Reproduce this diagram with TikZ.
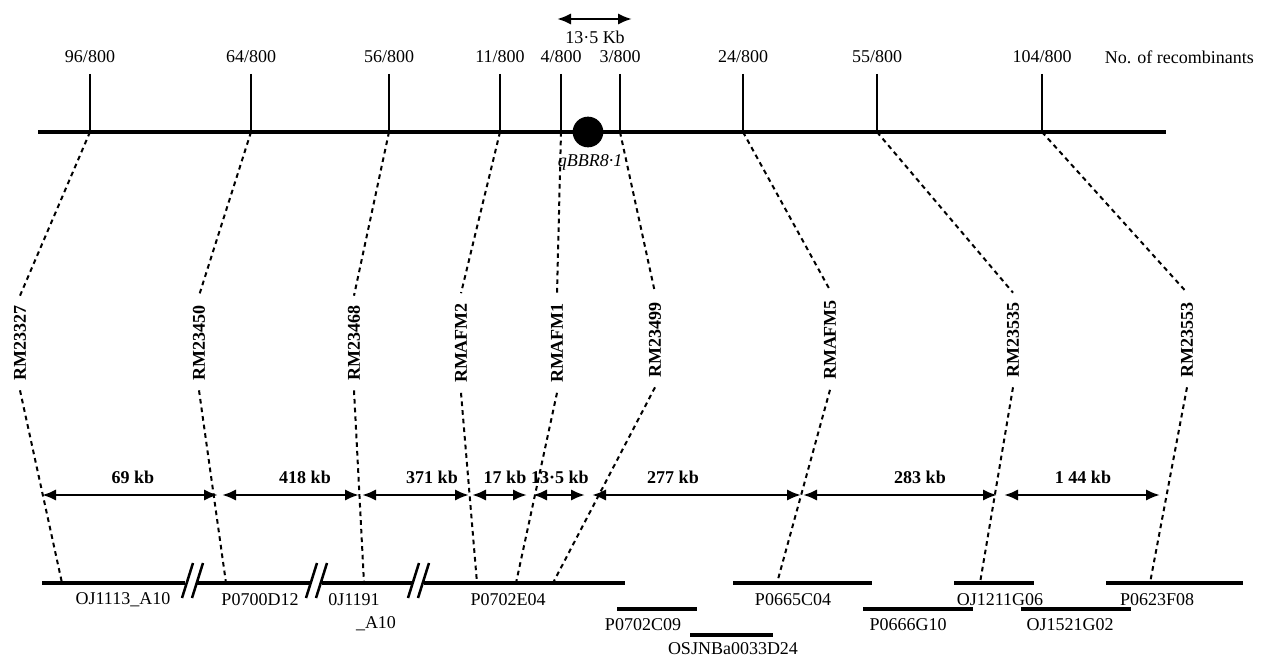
\documentclass[tikz,border=0pt]{standalone}
\usepackage{fontspec}
\setmainfont{Liberation Serif}
\usetikzlibrary{arrows.meta}

\tikzset{every picture/.style={line width=0.75pt}}
\tikzset{
  mapline/.style={line width=2.6pt},
  tickline/.style={line width=1.9pt},
  dashlink/.style={line width=1.5pt, dash pattern=on 3.5pt off 3pt},
  kbarrow/.style={line width=1.9pt, {Latex[length=10.5pt,width=8.5pt]}-{Latex[length=10.5pt,width=8.5pt]}},
  contig/.style={line width=2.6pt},
  marker/.style={rotate=90, inner sep=7pt, font=\fontsize{13.5}{15}\selectfont\bfseries},
  kblabel/.style={font=\fontsize{13.5}{15}\selectfont\bfseries},
}

\begin{document}
\begin{tikzpicture}[x=0.75pt,y=0.75pt,yscale=-1,xscale=1,font=\fontsize{13.5}{15}\selectfont]
\useasboundingbox (0,0) rectangle (1261,660);

%Straight Lines [id:mainmap]
\coordinate (L0) at (38,132);
\coordinate (L1) at (1166,132);
\draw[mapline] (L0) -- (L1);

%Ticks
\coordinate (k1) at (90,132);   \coordinate (h1) at (90,74);
\coordinate (k2) at (251,132);  \coordinate (h2) at (251,74);
\coordinate (k3) at (389,132);  \coordinate (h3) at (389,74);
\coordinate (k4) at (500,132);  \coordinate (h4) at (500,74);
\coordinate (k5) at (561,132);  \coordinate (h5) at (561,74);
\coordinate (k6) at (620,132);  \coordinate (h6) at (620,74);
\coordinate (k7) at (743,132);  \coordinate (h7) at (743,74);
\coordinate (k8) at (877,132);  \coordinate (h8) at (877,74);
\coordinate (k9) at (1042,132); \coordinate (h9) at (1042,74);
\draw[tickline] (h1) -- (k1);
\draw[tickline] (h2) -- (k2);
\draw[tickline] (h3) -- (k3);
\draw[tickline] (h4) -- (k4);
\draw[tickline] (h5) -- (k5);
\draw[tickline] (h6) -- (k6);
\draw[tickline] (h7) -- (k7);
\draw[tickline] (h8) -- (k8);
\draw[tickline] (h9) -- (k9);

% Text Node
\node (r1) at (90,57) {96/800};
\node (r2) at (251,57) {64/800};
\node (r3) at (389,57) {56/800};
\node (r4) at (500,57) {11/800};
\node (r5) at (561,57) {4/800};
\node (r6) at (620,57) {3/800};
\node (r7) at (743,57) {24/800};
\node (r8) at (877,57) {55/800};
\node (r9) at (1042,57) {104/800};
\node[anchor=west] (nrec) at (1100,57) {No. of recombinants};

%Interval of the gene
\coordinate (ia) at (557,19);
\coordinate (ib) at (632,19);
\draw[kbarrow] (ia) -- (ib);
\node (iv) at (595,37) {13·5 Kb};

%Gene
\node[circle, fill=black, minimum size=23pt, inner sep=0pt] (qtl) at (588,132) {};
\node (qname) at (590,162) {\itshape qBBR8·1};

% Markers
\node[marker] (m1) at (20,343) {RM23327};
\node[marker] (m2) at (199,343) {RM23450};
\node[marker] (m3) at (354,343) {RM23468};
\node[marker] (m4) at (461,343) {RMAFM2};
\node[marker] (m5) at (557,343) {RMAFM1};
\node[marker] (m6) at (655,340) {RM23499};
\node[marker] (m7) at (830,340) {RMAFM5};
\node[marker] (m8) at (1013,340) {RM23535};
\node[marker] (m9) at (1187,340) {RM23553};

% Points on the physical map
\coordinate (c1) at (62,583);
\coordinate (c2) at (226,583);
\coordinate (c3) at (364,583);
\coordinate (c4) at (477,583);
\coordinate (c5) at (516,583);
\coordinate (c6) at (553,583);
\coordinate (c7) at (777,583);
\coordinate (c8) at (980,583);
\coordinate (c9) at (1150,583);

%Dashed links
\draw[dashlink] (k1) -- (m1.east);  \draw[dashlink] (m1.west) -- (c1);
\draw[dashlink] (k2) -- (m2.east);  \draw[dashlink] (m2.west) -- (c2);
\draw[dashlink] (k3) -- (m3.east);  \draw[dashlink] (m3.west) -- (c3);
\draw[dashlink] (k4) -- (m4.east);  \draw[dashlink] (m4.west) -- (c4);
\draw[dashlink] (k5) -- (m5.east);  \draw[dashlink] (m5.west) -- (c5);
\draw[dashlink] (k6) -- (m6.east);  \draw[dashlink] (m6.west) -- (c6);
\draw[dashlink] (k7) -- (m7.east);  \draw[dashlink] (m7.west) -- (c7);
\draw[dashlink] (k8) -- (m8.east);  \draw[dashlink] (m8.west) -- (c8);
\draw[dashlink] (k9) -- (m9.east);  \draw[dashlink] (m9.west) -- (c9);

%Physical distances
\coordinate (d0) at (42,495);   \coordinate (e0) at (218,495);
\coordinate (d1) at (222,495);  \coordinate (e1) at (359,495);
\coordinate (d2) at (362,495);  \coordinate (e2) at (469,495);
\coordinate (d3) at (472,495);  \coordinate (e3) at (527,495);
\coordinate (d4) at (533,495);  \coordinate (e4) at (585,495);
\coordinate (d5) at (592,495);  \coordinate (e5) at (801,495);
\coordinate (d6) at (803,495);  \coordinate (e6) at (997,495);
\coordinate (d7) at (1004,495); \coordinate (e7) at (1160,495);
\draw[kbarrow] (d0) -- (e0);
\draw[kbarrow] (d1) -- (e1);
\draw[kbarrow] (d2) -- (e2);
\draw[kbarrow] (d3) -- (e3);
\draw[kbarrow] (d4) -- (e4);
\draw[kbarrow] (d5) -- (e5);
\draw[kbarrow] (d6) -- (e6);
\draw[kbarrow] (d7) -- (e7);
\node[kblabel] (s0) at (133,477) {69 kb};
\node[kblabel] (s1) at (305,477) {418 kb};
\node[kblabel] (s2) at (432,477) {371 kb};
\node[kblabel] (s3) at (505,477) {17 kb};
\node[kblabel] (s4) at (560,477) {13·5 kb};
\node[kblabel] (s5) at (673,477) {277 kb};
\node[kblabel] (s6) at (920,477) {283 kb};
\node[kblabel] (s7) at (1083,477) {1 44 kb};

%Contig with breaks
\draw[contig] (42,583) -- (185,583);
\draw[contig] (197,583) -- (310,583);
\draw[contig] (322,583) -- (412,583);
\draw[contig] (424,583) -- (625,583);
\draw[tickline] (182,598) -- (193,563);  \draw[tickline] (192,598) -- (203,563);
\draw[tickline] (306,598) -- (317,563);  \draw[tickline] (316,598) -- (327,563);
\draw[tickline] (408,598) -- (419,563);  \draw[tickline] (418,598) -- (429,563);
\node (b1) at (123,600) {OJ1113\_A10};
\node (b2) at (260,600) {P0700D12};
\node (b3) at (354,600) {0J1191};
\node (b3a) at (376,624) {\_A10};
\node (b4) at (508,600) {P0702E04};

%Other contigs
\draw[contig] (617,609) -- (697,609);
\node (b5) at (643,625) {P0702C09};
\draw[contig] (690,635) -- (773,635);
\node (b6) at (733,649) {OSJNBa0033D24};
\draw[contig] (733,583) -- (872,583);
\node (b7) at (793,600) {P0665C04};
\draw[contig] (863,609) -- (973,609);
\node (b8) at (908,625) {P0666G10};
\draw[contig] (954,583) -- (1034,583);
\node (b9) at (1000,600) {OJ1211G06};
\draw[contig] (1021,609) -- (1131,609);
\node (b10) at (1070,625) {OJ1521G02};
\draw[contig] (1106,583) -- (1243,583);
\node (b11) at (1157,600) {P0623F08};

\end{tikzpicture}
\end{document}
